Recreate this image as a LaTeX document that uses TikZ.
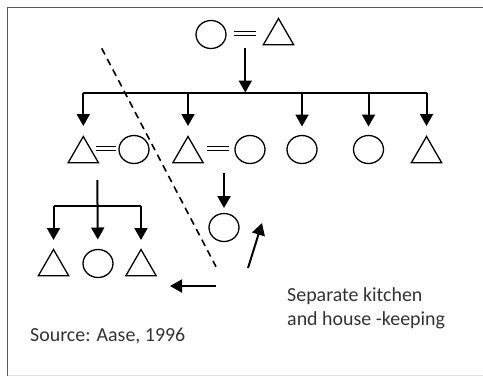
\documentclass[tikz,border=0pt]{standalone}
\usepackage{fontspec}
\setmainfont{Carlito}
\usetikzlibrary{arrows.meta,shapes.geometric}
\begin{document}
\begin{tikzpicture}[x=1bp,y=-1bp,
  circ/.style={draw, ellipse, minimum width=30bp, minimum height=28bp, inner sep=0pt, outer sep=0pt, line width=1.3bp},
  tri/.style={draw, regular polygon, regular polygon sides=3, minimum size=35bp, inner sep=0pt, outer sep=0pt, line width=1.3bp, anchor=corner 1},
  arr/.style={line width=2bp, -{Triangle[length=12bp,width=13bp]}},
  ln/.style={line width=2bp},
  eq/.style={line width=1.4bp},
  dashline/.style={line width=1.6bp, dash pattern=on 7bp off 5bp},
  lbl/.style={text=black!80, font=\fontsize{20}{24}\selectfont, inner sep=0pt, anchor=base west}]
\useasboundingbox (0,0) rectangle (483,376);
% frame
\draw[black!65, line width=1.5bp] (7.5,376) -- (7.5,7.5) -- (483,7.5);
\draw[black!12, line width=1bp] (7.5,375.5) -- (483,375.5);

% top couple
\node[circ] (c0) at (211,34.5) {};
\node[tri] (t0) at (278.5,18.5) {};
\draw[eq] (234,31.5) -- (256,31.5) (234,35.5) -- (256,35.5);

% descent to children
\coordinate (a0) at (245.3,48);
\coordinate (j0) at (245.3,92.5);
\draw[arr] (a0) -- (j0);
\coordinate (b1) at (83.3,92.5);
\coordinate (b2) at (188,92.5);
\coordinate (b3) at (302,92.5);
\coordinate (b4) at (368.5,92.5);
\coordinate (b5) at (426.5,92.5);
\draw[ln] (b1) -- (b5);

% second row
\node[tri] (t1) at (83.3,136.5) {};
\node[circ] (c1) at (134,149.5) {};
\draw[eq] (96,146.5) -- (116,146.5) (96,150.5) -- (116,150.5);
\node[tri] (t2) at (188,136.5) {};
\draw[eq] (207,146.5) -- (229,146.5) (207,150.5) -- (229,150.5);
\node[circ] (c2) at (250,149.5) {};
\node[circ] (c3) at (302,149.5) {};
\node[circ] (c4) at (368.5,149.5) {};
\node[tri] (t5) at (426.5,136.5) {};

\draw[arr, shorten >=10.5bp] (b1) -- (t1);
\draw[arr, shorten >=10.5bp] (b2) -- (t2);
\draw[arr, shorten >=9bp] (b3) -- (c3);
\draw[arr, shorten >=9bp] (b4) -- (c4);
\draw[arr, shorten >=10.5bp] (b5) -- (t5);

% grandchildren of first couple
\node[tri] (g1) at (53.5,249.5) {};
\node[circ] (g2) at (98,263.5) {};
\node[tri] (g3) at (141,249.5) {};
\coordinate (a1) at (97.3,180);
\coordinate (k1) at (53.5,206);
\coordinate (k3) at (141,206);
\draw[ln] (k1) -- (k3);
\draw[arr, shorten >=10bp] (a1) -- (g2);
\draw[arr, shorten >=9.5bp] (k1) -- (g1);
\draw[arr, shorten >=9.5bp] (k3) -- (g3);

% child of second couple
\node[circ] (h1) at (224,227.5) {};
\coordinate (a2) at (224,173);
\draw[arr, shorten >=5.5bp] (a2) -- (h1);

% dashed divider and side arrows
\coordinate (d1) at (101.7,48.3);
\coordinate (d2) at (216,266.7);
\draw[dashline] (d1) -- (d2);
\coordinate (u1) at (248,268);
\coordinate (u2) at (262,223);
\draw[arr] (u1) -- (u2);
\coordinate (l1) at (216,286);
\coordinate (l2) at (170,286);
\draw[arr] (l1) -- (l2);

% labels
\node[lbl] (sep1) at (287,301.5) {Separate kitchen};
\node[lbl] (sep2) at (287,325.5) {and house -keeping};
\node[lbl] (src) at (30,341.5) {Source: Aase, 1996};
\end{tikzpicture}
\end{document}
